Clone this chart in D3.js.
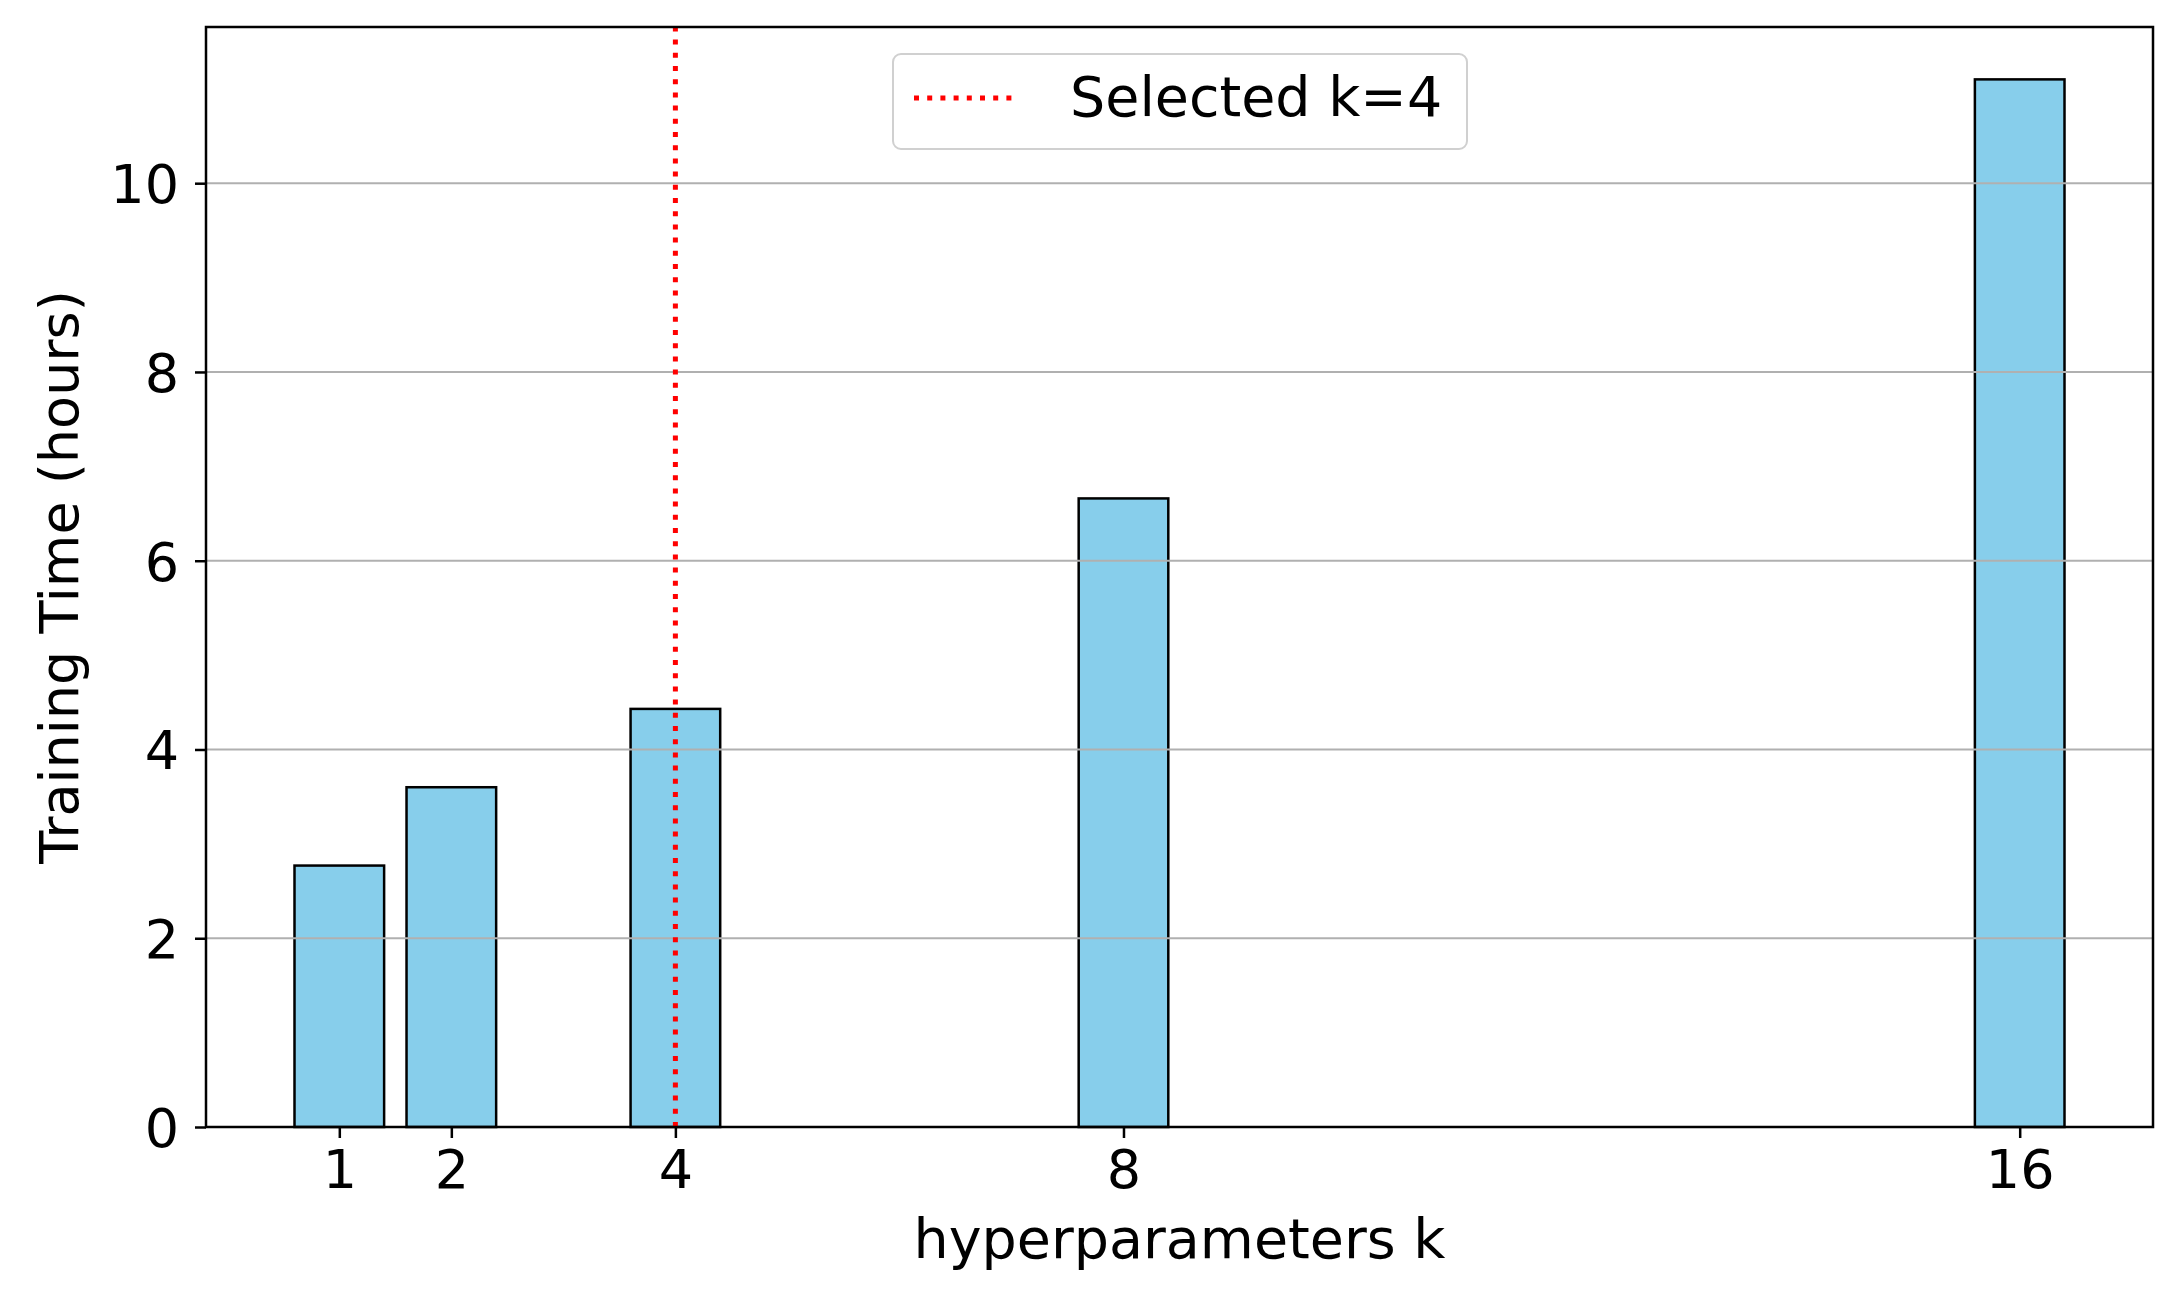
<!DOCTYPE html>
<html>
<head>
<meta charset="utf-8">
<script src="https://cdn.jsdelivr.net/npm/d3@7"></script>
<style>
  html, body { margin: 0; padding: 0; background: #fff; }
  svg { display: block; font-family: "DejaVu Sans", sans-serif; }
</style>
</head>
<body>
<svg id="chart" width="2177" height="1306"></svg>
<script>
// ---- data ----
const kValues = [1, 2, 4, 8, 16];
const trainingHours = [2.77, 3.60, 4.43, 6.66, 11.10];
const yTicks = [0, 2, 4, 6, 8, 10];
const selectedK = 4;
const legendLabel = "Selected k=4";
const xLabel = "hyperparameters k";
const yLabel = "Training Time (hours)";

// ---- layout ----
const W = 2177, H = 1306;
const plot = { left: 206, right: 2153, top: 27, bottom: 1127 };
const barWidth = 0.8;
const fontSize = 54;

const svg = d3.select("#chart");

// matplotlib-like domains
const xMin = d3.min(kValues) - barWidth / 2, xMax = d3.max(kValues) + barWidth / 2;
const xPad = (xMax - xMin) * 0.05;
const x = d3.scaleLinear().domain([xMin - xPad, xMax + xPad]).range([plot.left, plot.right]);
const yMax = d3.max(trainingHours) * 1.05;
const y = d3.scaleLinear().domain([0, yMax]).range([plot.bottom, plot.top]);

const data = kValues.map((k, i) => ({ k, v: trainingHours[i] }));

// bars
svg.append("g").selectAll("rect").data(data).enter().append("rect")
  .attr("x", d => x(d.k - barWidth / 2))
  .attr("width", d => x(d.k + barWidth / 2) - x(d.k - barWidth / 2))
  .attr("y", d => y(d.v))
  .attr("height", d => y(0) - y(d.v))
  .attr("fill", "#87CEEB")
  .attr("stroke", "#000")
  .attr("stroke-width", 2.5);

// gridlines (above bars, as matplotlib default)
svg.append("g").selectAll("line").data(yTicks.filter(t => t > 0)).enter().append("line")
  .attr("x1", plot.left).attr("x2", plot.right)
  .attr("y1", d => y(d)).attr("y2", d => y(d))
  .attr("stroke", "#b0b0b0").attr("stroke-width", 2);

// axes
const xAxis = d3.axisBottom(x).tickValues(kValues).tickSize(11).tickPadding(12).tickFormat(d3.format("d"));
const gx = svg.append("g").attr("transform", `translate(0,${plot.bottom})`).call(xAxis);
gx.select(".domain").remove();
gx.selectAll(".tick line").attr("stroke", "#000").attr("stroke-width", 2.5);
gx.selectAll(".tick text").attr("font-size", fontSize).attr("font-family", "DejaVu Sans").attr("fill", "#000");

const yAxis = d3.axisLeft(y).tickValues(yTicks).tickSize(11).tickPadding(16).tickFormat(d3.format("d"));
const gy = svg.append("g").attr("transform", `translate(${plot.left},0)`).call(yAxis);
gy.select(".domain").remove();
gy.selectAll(".tick line").attr("stroke", "#000").attr("stroke-width", 2.5);
gy.selectAll(".tick text").attr("font-size", fontSize).attr("font-family", "DejaVu Sans").attr("fill", "#000").attr("dy", "0.36em");

// selected k vertical line
svg.append("line")
  .attr("x1", x(selectedK)).attr("x2", x(selectedK))
  .attr("y1", plot.bottom).attr("y2", plot.top)
  .attr("stroke", "#ff0000").attr("stroke-width", 5)
  .attr("stroke-dasharray", "5 8.2");

// spines
svg.append("rect")
  .attr("x", plot.left).attr("y", plot.top)
  .attr("width", plot.right - plot.left).attr("height", plot.bottom - plot.top)
  .attr("fill", "none").attr("stroke", "#000").attr("stroke-width", 2.5);

// axis labels
svg.append("text")
  .attr("x", (plot.left + plot.right) / 2).attr("y", 1258)
  .attr("text-anchor", "middle").attr("font-size", 55.5).attr("fill", "#000")
  .text(xLabel);
svg.append("text")
  .attr("transform", `translate(78,${(plot.top + plot.bottom) / 2}) rotate(-90)`)
  .attr("text-anchor", "middle").attr("font-size", fontSize).attr("fill", "#000")
  .text(yLabel);

// legend
const lg = svg.append("g");
lg.append("rect")
  .attr("x", 893).attr("y", 54).attr("width", 574).attr("height", 95)
  .attr("rx", 8).attr("ry", 8)
  .attr("fill", "#fff").attr("fill-opacity", 0.8)
  .attr("stroke", "#d0d0d0").attr("stroke-width", 2);
lg.append("line")
  .attr("x1", 914).attr("x2", 1018).attr("y1", 98).attr("y2", 98)
  .attr("stroke", "#ff0000").attr("stroke-width", 5)
  .attr("stroke-dasharray", "5 8.2");
lg.append("text")
  .attr("x", 1070).attr("y", 116)
  .attr("font-size", 55.5).attr("fill", "#000")
  .text(legendLabel);
</script>
</body>
</html>
